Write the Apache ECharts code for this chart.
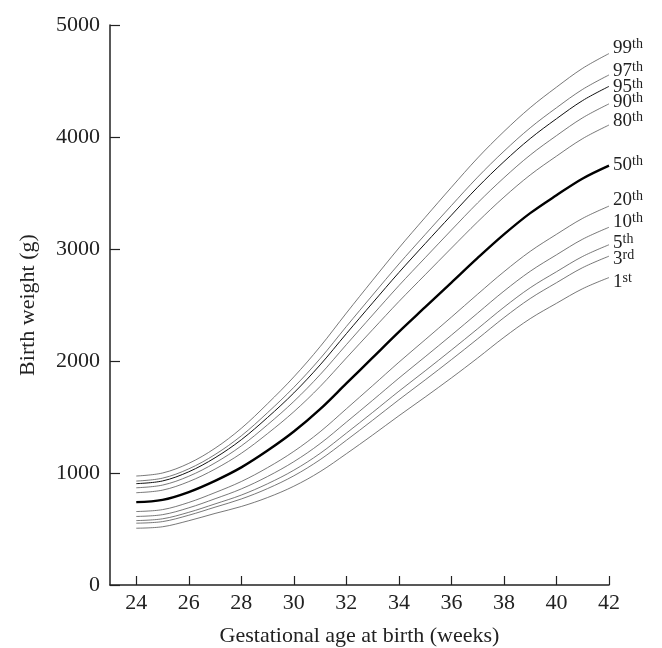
<!DOCTYPE html>
<html lang="en">
<head>
    <meta charset="UTF-8">
    <title>Birth weight centiles</title>
    <script src="https://cdn.jsdelivr.net/npm/echarts@6/dist/echarts.min.js"></script>
    <style>
        html, body { margin: 0; padding: 0; background: #fff; }
    </style>
</head>
<body>
<div id="main" style="width: 662px;height:648px;"></div>
<script type="text/javascript">
    // gestational weeks
    var weeks = [24, 25, 26, 27, 28, 29, 30, 31, 32, 33, 34, 35, 36, 37, 38, 39, 40, 41, 42];
    var xTicks = [24, 26, 28, 30, 32, 34, 36, 38, 40, 42];

    // birth weight centiles (g)
    var p99 = [973, 1000, 1086, 1221, 1399, 1619, 1858, 2128, 2428, 2721, 3009, 3282, 3551, 3813, 4049, 4262, 4445, 4614, 4745];
    var p97 = [928, 954, 1037, 1165, 1332, 1539, 1765, 2021, 2308, 2589, 2866, 3129, 3388, 3642, 3873, 4082, 4261, 4426, 4554];
    var p95 = [905, 929, 1011, 1136, 1297, 1496, 1715, 1965, 2244, 2519, 2790, 3048, 3302, 3552, 3780, 3986, 4163, 4326, 4452];
    var p90 = [868, 892, 971, 1090, 1242, 1431, 1639, 1878, 2146, 2411, 2673, 2922, 3169, 3412, 3636, 3839, 4012, 4172, 4296];
    var p80 = [824, 847, 923, 1035, 1176, 1352, 1547, 1772, 2027, 2280, 2531, 2770, 3008, 3243, 3463, 3661, 3829, 3986, 4107];
    var p50 = [740, 760, 830, 930, 1050, 1200, 1370, 1570, 1800, 2030, 2260, 2480, 2700, 2920, 3130, 3320, 3480, 3630, 3745];
    var p20 = [656, 673, 737, 825, 924, 1048, 1193, 1368, 1573, 1780, 1989, 2190, 2392, 2597, 2797, 2979, 3131, 3274, 3383];
    var p10 = [612, 628, 689, 770, 858, 969, 1101, 1262, 1454, 1649, 1847, 2038, 2231, 2428, 2624, 2801, 2948, 3088, 3194];
    var p5  = [575, 591, 649, 724, 803, 904, 1025, 1175, 1356, 1541, 1730, 1912, 2098, 2288, 2480, 2654, 2797, 2934, 3038];
    var p3  = [552, 566, 623, 695, 768, 861, 975, 1119, 1292, 1471, 1654, 1831, 2012, 2198, 2387, 2558, 2699, 2834, 2936];
    var p1  = [507, 520, 574, 639, 701, 781, 882, 1012, 1172, 1339, 1511, 1678, 1849, 2027, 2211, 2378, 2515, 2646, 2745];

    var centiles = [
        {num: '99', sup: 'th', data: p99},
        {num: '97', sup: 'th', data: p97},
        {num: '95', sup: 'th', data: p95},
        {num: '90', sup: 'th', data: p90},
        {num: '80', sup: 'th', data: p80},
        {num: '50', sup: 'th', data: p50},
        {num: '20', sup: 'th', data: p20},
        {num: '10', sup: 'th', data: p10},
        {num: '5', sup: 'th', data: p5},
        {num: '3', sup: 'rd', data: p3},
        {num: '1', sup: 'st', data: p1}
    ];
    // label nudges so the end labels don't collide
    var labelShift = [-6, -4, 1, -2, -4, -1, -6, -5, -2, 3, 4];

    var FONT = '"Liberation Serif", "DejaVu Serif", serif';

    var series = centiles.map(function (c, i) {
        var bold = c.num === '50';
        return {
            name: c.num,
            type: 'line',
            smooth: 0.35,
            symbol: 'none',
            data: weeks.map(function (w, j) { return [w, c.data[j]]; }),
            lineStyle: {
                color: bold ? '#000' : (c.num === '95' ? '#111' : '#555'),
                width: bold ? 2.4 : (c.num === '95' ? 1 : 0.8)
            },
            endLabel: {
                show: true,
                distance: 4,
                offset: [0, labelShift[i]],
                formatter: '{n|' + c.num + '}{s|' + c.sup + '}',
                rich: {
                    n: {fontFamily: FONT, fontSize: 19, color: '#222'},
                    s: {fontFamily: FONT, fontSize: 14, color: '#222', padding: [0, 0, 7, 0]}
                }
            },
            emphasis: {disabled: true},
            silent: true
        };
    });

    var chart = echarts.init(document.getElementById('main'));
    var option = {
        backgroundColor: '#fff',
        animation: false,
        grid: {left: 110, right: 53, top: 25, bottom: 63, containLabel: false, outerBoundsMode: 'none'},
        xAxis: {
            type: 'value',
            min: 23,
            max: 42,
            name: 'Gestational age at birth (weeks)',
            nameLocation: 'middle',
            nameGap: 40,
            nameTextStyle: {fontFamily: FONT, fontSize: 22, color: '#222'},
            axisLine: {lineStyle: {color: '#222', width: 1.5}},
            axisTick: {show: true, inside: true, length: 9, customValues: xTicks, lineStyle: {color: '#222', width: 1.2}},
            axisLabel: {customValues: xTicks, fontFamily: FONT, fontSize: 22, color: '#222', margin: 7},
            splitLine: {show: false}
        },
        yAxis: {
            type: 'value',
            min: 0,
            max: 5000,
            interval: 1000,
            name: 'Birth weight (g)',
            nameLocation: 'middle',
            nameGap: 71,
            nameTextStyle: {fontFamily: FONT, fontSize: 22, color: '#222'},
            axisLine: {show: true, lineStyle: {color: '#222', width: 1.5}},
            axisTick: {show: true, inside: true, length: 10, lineStyle: {color: '#222', width: 1.2}},
            axisLabel: {
                fontFamily: FONT, fontSize: 22, color: '#222', margin: 10,
                formatter: function (v) { return String(v); }
            },
            splitLine: {show: false}
        },
        series: series
    };
    chart.setOption(option);
</script>
</body>
</html>
